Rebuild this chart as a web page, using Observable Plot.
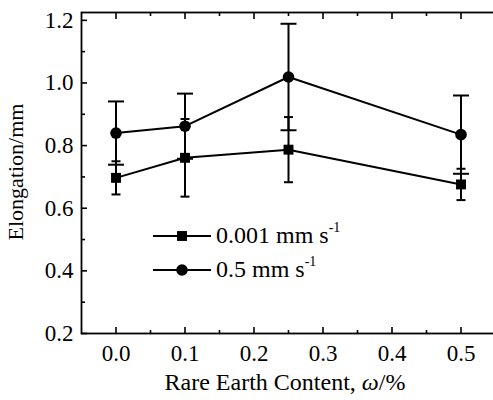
<!DOCTYPE html>
<html><head><meta charset="utf-8">
<script src="https://cdn.jsdelivr.net/npm/d3@7"></script>
<script src="https://cdn.jsdelivr.net/npm/@observablehq/plot@0.6"></script>
<style>body{margin:0;background:#fff} svg{display:block}</style>
</head><body><div id="chart"></div>
<script>
const content = [0.0, 0.1, 0.25, 0.5];
const slowMean = [0.697, 0.761, 0.787, 0.676];
const slowErr = [0.053, 0.124, 0.104, 0.050];
const fastMean = [0.840, 0.862, 1.019, 0.835];
const fastErr = [0.101, 0.104, 0.170, 0.125];
const seriesNames = ["0.001 mm s", "0.5 mm s"];
const unitSup = "-1";
const xMajor = [0, 0.1, 0.2, 0.3, 0.4, 0.5];
const xMinor = [0.05, 0.15, 0.25, 0.35, 0.45];
const yMajor = [0.2, 0.4, 0.6, 0.8, 1.0, 1.2];
const yMinor = [0.3, 0.5, 0.7, 0.9, 1.1];
const xLabel = ["Rare Earth Content, ", "ω", "/%"];
const yLabel = "Elongation/mm";

const toRows = (m, e) => content.map((x, i) => ({x, y: m[i], lo: m[i] - e[i], hi: m[i] + e[i]}));
const slow = toRows(slowMean, slowErr);
const fast = toRows(fastMean, fastErr);

const cap = {draw(ctx, size) { const w = Math.sqrt(size / Math.PI); ctx.moveTo(-w, 0); ctx.lineTo(w, 0); }};
const F = '"Liberation Serif", "DejaVu Serif", serif';
const sw = 1.6;
const lw = 2;

const svg = Plot.plot({
  width: 493, height: 400,
  marginLeft: 81, marginTop: 12, marginBottom: 67, marginRight: -2,
  x: {domain: [-0.05, 0.55]},
  y: {domain: [0.2, 1.225]},
  style: {fontFamily: F, fontSize: "23px", background: "#fff", color: "#000"},
  marks: [
    Plot.frame({stroke: "#000", strokeWidth: 1.8}),
    Plot.axisX(xMajor, {anchor: "bottom", tickSize: 6, dy: -6, fill: "none", strokeWidth: sw, label: null}),
    Plot.axisX(xMinor, {anchor: "bottom", tickSize: 3, dy: -3, fill: "none", strokeWidth: sw, label: null}),
    Plot.axisX(xMajor, {anchor: "top", tickSize: 6, dy: 6, fill: "none", strokeWidth: sw, label: null}),
    Plot.axisX(xMinor, {anchor: "top", tickSize: 3, dy: 3, fill: "none", strokeWidth: sw, label: null}),
    Plot.axisX(xMajor, {anchor: "bottom", tickSize: 0, tickPadding: 11, tickFormat: d3.format(".1f"), label: null}),
    Plot.axisY(yMajor, {anchor: "left", tickSize: 6, dx: 6, fill: "none", strokeWidth: sw, label: null}),
    Plot.axisY(yMinor, {anchor: "left", tickSize: 4, dx: 4, fill: "none", strokeWidth: sw, label: null}),
    Plot.axisY(yMajor, {anchor: "left", tickSize: 0, tickPadding: 8, tickFormat: d3.format(".1f"), label: null}),
    Plot.line(slow, {x: "x", y: "y", stroke: "#000", strokeWidth: lw}),
    Plot.line(fast, {x: "x", y: "y", stroke: "#000", strokeWidth: lw}),
    Plot.ruleX(slow, {x: "x", y1: "lo", y2: "hi", stroke: "#000", strokeWidth: lw}),
    Plot.ruleX(fast, {x: "x", y1: "lo", y2: "hi", stroke: "#000", strokeWidth: lw}),
    Plot.dot(slow, {x: "x", y: "hi", symbol: cap, r: 4.5, stroke: "#000", strokeWidth: lw}),
    Plot.dot(slow, {x: "x", y: "lo", symbol: cap, r: 4.5, stroke: "#000", strokeWidth: lw}),
    Plot.dot(fast, {x: "x", y: "hi", symbol: cap, r: 8, stroke: "#000", strokeWidth: lw}),
    Plot.dot(fast, {x: "x", y: "lo", symbol: cap, r: 8, stroke: "#000", strokeWidth: lw}),
    Plot.dot(slow, {x: "x", y: "y", symbol: "square", r: 5.6, fill: "#000"}),
    Plot.dot(fast, {x: "x", y: "y", symbol: "circle", r: 5.8, fill: "#000"})
  ]
});
document.getElementById("chart").appendChild(svg);

const s = d3.select(svg);
// y label
s.append("text").attr("transform", "translate(16,172) rotate(-90)")
  .attr("text-anchor", "middle").attr("dy", "0.32em")
  .style("font-family", F).style("font-size", "22px")
  .text(yLabel);
// x label
const xl = s.append("text").attr("x", 285).attr("y", 390).attr("text-anchor", "middle")
  .style("font-family", F).style("font-size", "24px");
xl.append("tspan").text(xLabel[0]);
xl.append("tspan").style("font-style", "italic").text(xLabel[1]);
xl.append("tspan").text(xLabel[2]);
// legend
const legY = [236, 270];
const symbols = [d3.symbolSquare, d3.symbolCircle];
const symSize = [Math.PI * 5.6 * 5.6, Math.PI * 5.8 * 5.8];
seriesNames.forEach((name, i) => {
  const g = s.append("g");
  g.append("line").attr("x1", 153).attr("x2", 211).attr("y1", legY[i]).attr("y2", legY[i])
    .attr("stroke", "#000").attr("stroke-width", lw);
  g.append("path").attr("d", d3.symbol(symbols[i], symSize[i])()).attr("transform", `translate(182,${legY[i]})`).attr("fill", "#000");
  const t = g.append("text").attr("x", 216).attr("y", legY[i] + 7).attr("text-anchor", "start")
    .style("font-family", F).style("font-size", "24px");
  t.append("tspan").text(name);
  t.append("tspan").attr("dy", -11).style("font-size", "14px").text(unitSup);
});
</script>
</body></html>
